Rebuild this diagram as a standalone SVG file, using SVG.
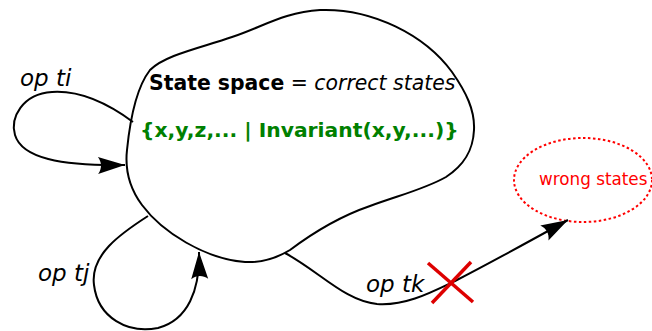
<svg xmlns="http://www.w3.org/2000/svg" width="652" height="331" viewBox="0 0 652 331">
  <style>
    .line { fill: none; stroke: #000; stroke-width: 2; }
    .op { font-family: "DejaVu Sans", sans-serif; font-style: italic; font-size: 23px; fill: #000; }
    .title { font-family: "DejaVu Sans", sans-serif; font-size: 20.4px; fill: #000; }
    .inv { font-family: "DejaVu Sans", sans-serif; font-size: 20.3px; font-weight: bold; fill: #008000; }
    .wrong { font-family: "DejaVu Sans", sans-serif; font-size: 16.8px; fill: #ff0000; }
  </style>
  <defs>
    <marker id="arrow" markerUnits="userSpaceOnUse" markerWidth="32" markerHeight="20" viewBox="-28 -10 32 20" refX="0" refY="0" orient="auto">
      <path d="M0,0 L-27,-8.5 C-23,-3 -23,3 -27,8.5 Z" fill="#000"/>
    </marker>
  </defs>

  <!-- state space -->
  <g id="state-space">
    <path class="line" d="M320,10 C372,8 425,35 452,72 C466,92 475,110 474,130 C473,152 463,166 446,177 C425,189 400,195 370,206 C335,218 310,235 290,250 C275,259 262,263 245,262 C205,259 162,232 142,205 C128,186 125,168 127,150 C130,120 136,88 150,70 C165,55 200,48 232,37 C262,27 285,12 320,10 Z"/>
    <text class="title" x="149" y="90"><tspan font-weight="bold">State space</tspan> = <tspan font-style="italic">correct states</tspan></text>
    <text class="inv" x="140" y="137">{x,y,z,... | Invariant(x,y,...)}</text>
  </g>

  <!-- wrong states -->
  <g id="wrong-states">
    <ellipse cx="583" cy="180" rx="69" ry="42" fill="none" stroke="#ff0000" stroke-width="2" stroke-dasharray="2.5,2.5"/>
    <text class="wrong" x="539" y="185">wrong states</text>
  </g>

  <!-- transitions -->
  <g id="connectors">
    <path class="line" marker-end="url(#arrow)" d="M133,122 C110,105 82,90 52,92 C22,94 10,118 15,135 C22,158 60,166 125,165"/>
    <path class="line" marker-end="url(#arrow)" d="M148,216 C120,234 90,255 94,285 C98,318 128,334 158,328 C188,320 200,290 199,252"/>
    <path class="line" marker-end="url(#arrow)" d="M285,253 C320,272 345,301 377,304 C405,306 430,293 455,281 C490,263 530,241 568,220"/>
  </g>

  <g id="labels">
    <text class="op" x="20" y="86">op ti</text>
    <text class="op" x="38" y="281">op tj</text>
    <text class="op" x="366" y="292">op tk</text>
  </g>

  <!-- blocked transition -->
  <g id="cross" stroke="#dd0000" stroke-width="3.5" fill="none">
    <line x1="428" y1="263" x2="473" y2="302"/>
    <line x1="471" y1="262" x2="432" y2="303"/>
  </g>
</svg>
